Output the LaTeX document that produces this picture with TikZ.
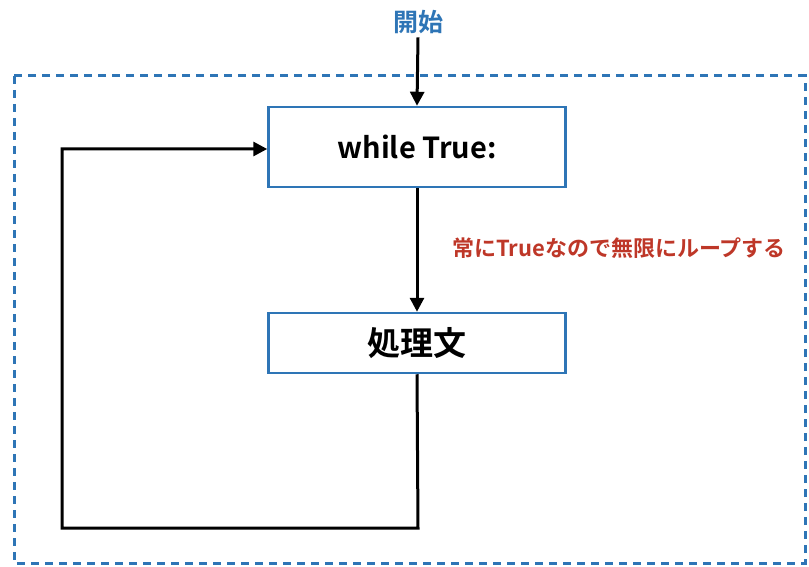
\documentclass[tikz,border=0pt]{standalone}
\usepackage{fontspec}
\setmainfont{Noto Sans CJK JP}[BoldFont={* Bold}]
\newfontfamily\jpbold{Noto Sans CJK JP Bold}
\usetikzlibrary{arrows.meta}
\definecolor{boxblue}{RGB}{46,117,182}
\definecolor{notered}{RGB}{190,55,40}
\begin{document}
\begin{tikzpicture}[x=1pt,y=-1pt,
  procbox/.style={draw=boxblue,line width=2.5pt,fill=white,minimum width=297pt,inner sep=0pt},
  tip/.style={-{Triangle[length=14pt,width=14pt]}},
  flow/.style={line width=3pt,tip},
  loopline/.style={line width=3pt}]
\useasboundingbox (0,0) rectangle (809,567);
\draw[boxblue,line width=3pt,dash pattern=on 8pt off 6pt] (14,76) rectangle (805,563);
\node[font=\jpbold\fontsize{25}{28}\selectfont,text=boxblue] (start) at (418,22) {開始};
\node[procbox,minimum height=80pt,font=\jpbold\fontsize{29}{32}\selectfont] (while) at (417,147) {while True:};
\node[procbox,minimum height=60pt,font=\jpbold\fontsize{33}{36}\selectfont] (proc) at (417,343) {処理文};
\node[font=\jpbold\fontsize{22}{24}\selectfont,text=notered] (note) at (619,248) {常にTrueなので無限にループする};
\coordinate (c1) at (418,528);
\coordinate (c2) at (62,528);
\coordinate (c3) at (62,149);
\draw[flow] (start.south) -- (while.north);
\draw[flow] (while.south) -- (proc.north);
\draw[loopline,tip] (proc.south) -- (c1) -- (c2) -- (c3) -- (while.west |- c3);
\end{tikzpicture}
\end{document}
